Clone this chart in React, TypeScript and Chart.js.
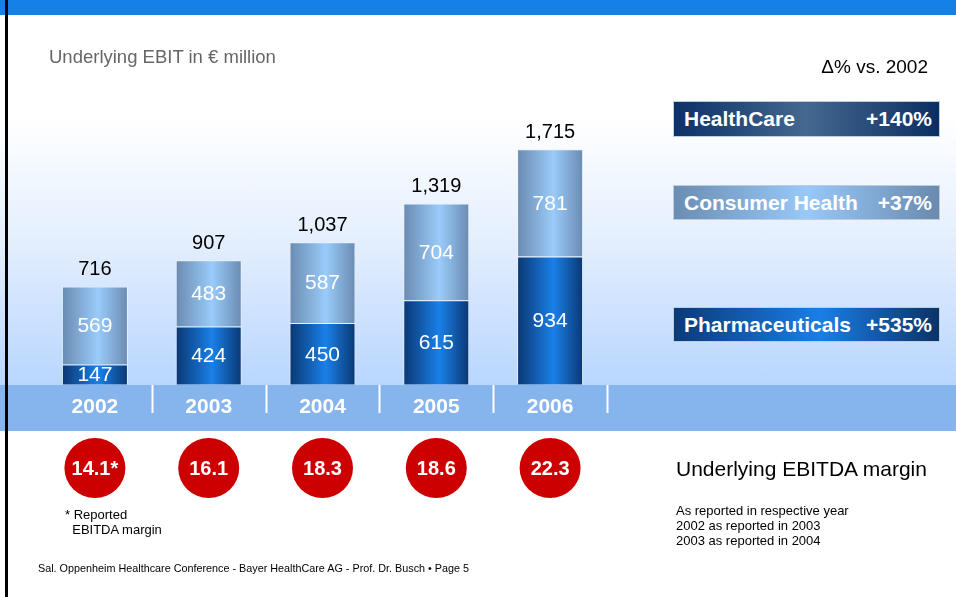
import React, { useEffect, useRef } from "react";
import { Chart, registerables } from "chart.js";

Chart.register(...registerables);

// ---- data ----
const years = ["2002", "2003", "2004", "2005", "2006"];
const pharmaValues = [147, 424, 450, 615, 934];
const consumerValues = [569, 483, 587, 704, 781];
const totalValues = [716, 907, 1037, 1319, 1715];
const ebitdaMargins = ["14.1*", "16.1", "18.3", "18.6", "22.3"];
const segmentNames = ["HealthCare", "Consumer Health", "Pharmaceuticals"];
const segmentChanges = ["+140%", "+37%", "+535%"];
const marginNotes = [
  "As reported in respective year",
  "2002 as reported in 2003",
  "2003 as reported in 2004",
];

const FONT = "'Liberation Sans', Arial, Helvetica, sans-serif";

const PHARMA_EDGE = "#0a3772";
const PHARMA_MID = "#1a80e8";
const CONSUMER_EDGE = "#6a8bb0";
const CONSUMER_MID = "#9acbfa";

const makeBarGradient = (edge: string, mid: string) => (ctx: any) => {
  const chart = ctx.chart;
  const xs = chart.scales && chart.scales.x;
  if (!xs || !chart.chartArea || ctx.dataIndex === undefined) return mid;
  const cx = xs.getPixelForValue(ctx.dataIndex);
  const half = ((xs.width / years.length) * 0.58) / 2;
  const g = chart.ctx.createLinearGradient(cx - half, 0, cx + half, 0);
  g.addColorStop(0, edge);
  g.addColorStop(0.55, mid);
  g.addColorStop(1, edge);
  return g;
};

const labelPlugin = {
  id: "slideLabels",
  afterDatasetsDraw(chart: any) {
    const c = chart.ctx;
    c.save();
    c.textAlign = "center";
    c.textBaseline = "middle";
    const sets = [pharmaValues, consumerValues];
    sets.forEach((vals, di) => {
      const meta = chart.getDatasetMeta(di);
      meta.data.forEach((el: any, i: number) => {
        const y = (el.y + el.base) / 2;
        c.fillStyle = "#ffffff";
        c.font = `21px ${FONT}`;
        c.fillText(String(vals[i]), el.x, y + 1);
      });
    });
    const top = chart.getDatasetMeta(1);
    top.data.forEach((el: any, i: number) => {
      c.fillStyle = "#000000";
      c.font = `20px ${FONT}`;
      c.fillText(totalValues[i].toLocaleString("en-US"), el.x, el.y - 17);
    });
    const xs = chart.scales.x;
    const step = xs.width / years.length;
    // separators in the year band
    c.strokeStyle = "#ffffff";
    c.lineWidth = 2;
    years.forEach((_, i) => {
      const x = Math.round(xs.getPixelForValue(i) + step / 2) + 0.5;
      c.beginPath();
      c.moveTo(x, 385);
      c.lineTo(x, 413);
      c.stroke();
    });
    // EBITDA margin circles under each year
    ebitdaMargins.forEach((m, i) => {
      const x = xs.getPixelForValue(i);
      const y = 468;
      c.fillStyle = "#cc0000";
      c.beginPath();
      c.ellipse(x, y, 30.5, 30, 0, 0, Math.PI * 2);
      c.fill();
      c.fillStyle = "#ffffff";
      c.font = `bold 20px ${FONT}`;
      c.fillText(m, x, y + 1);
    });
    c.restore();
  },
};

function BarChart() {
  const ref = useRef<HTMLCanvasElement | null>(null);
  useEffect(() => {
    if (!ref.current) return;
    const chart = new Chart(ref.current, {
      type: "bar",
      data: {
        labels: years,
        datasets: [
          {
            label: segmentNames[2],
            data: pharmaValues,
            backgroundColor: makeBarGradient(PHARMA_EDGE, PHARMA_MID) as any,
            borderColor: "rgba(235,242,252,0.9)",
            borderWidth: 1,
            stack: "s",
          },
          {
            label: segmentNames[1],
            data: consumerValues,
            backgroundColor: makeBarGradient(CONSUMER_EDGE, CONSUMER_MID) as any,
            borderColor: "rgba(235,242,252,0.9)",
            borderWidth: 1,
            stack: "s",
          },
        ],
      },
      options: {
        animation: false,
        responsive: false,
        maintainAspectRatio: false,
        layout: { padding: { left: 38, right: 349, top: 110, bottom: 167 } },
        datasets: { bar: { categoryPercentage: 1, barPercentage: 0.58 } },
        plugins: { legend: { display: false }, tooltip: { enabled: false } },
        scales: {
          x: {
            stacked: true,
            grid: { display: false, drawTicks: false },
            border: { display: false },
            ticks: {
              color: "#ffffff",
              padding: 10,
              font: { family: FONT, size: 21, weight: "bold" },
            },
          },
          y: { stacked: true, display: false, min: 0, max: 2000 },
        },
      },
      plugins: [labelPlugin],
    });
    return () => chart.destroy();
  }, []);
  return (
    <canvas
      ref={ref}
      width={956}
      height={597}
      style={{ position: "absolute", left: 0, top: 0, width: 956, height: 597 }}
    />
  );
}

const boxStyles = [
  { top: 101, height: 36, bg: "linear-gradient(90deg, #0b3168 0%, #44688f 50%, #0b2e62 100%)" },
  { top: 185, height: 35, bg: "linear-gradient(90deg, #6a8db2 0%, #98c9f9 50%, #6a8aae 100%)" },
  { top: 307, height: 35, bg: "linear-gradient(90deg, #0b3a78 0%, #1a7ee6 55%, #0b3366 100%)" },
];

export default function App() {
  return (
    <div
      style={{
        position: "absolute",
        left: 0,
        top: 0,
        width: 956,
        height: 597,
        overflow: "hidden",
        background: "#ffffff",
        fontFamily: FONT,
      }}
    >
      <div style={{ position: "absolute", left: 0, top: 0, width: 956, height: 15, background: "#1580e8" }} />
      <div
        style={{
          position: "absolute",
          left: 0,
          top: 15,
          width: 956,
          height: 370,
          background: "linear-gradient(180deg, #ffffff 0%, #ffffff 28%, #e3eefd 62%, #b8d6fe 100%)",
        }}
      />
      <div style={{ position: "absolute", left: 0, top: 385, width: 956, height: 46, background: "#86b4ec" }} />
      <div style={{ position: "absolute", left: 5, top: 0, width: 3, height: 597, background: "#000" }} />

      <BarChart />

      <div style={{ position: "absolute", left: 49, top: 46, fontSize: 18.5, color: "#666", whiteSpace: "nowrap" }}>
        Underlying EBIT in € million
      </div>
      <div style={{ position: "absolute", right: 28, top: 56, fontSize: 19, color: "#000", whiteSpace: "nowrap" }}>
        Δ% vs. 2002
      </div>

      {segmentNames.map((name, i) => (
        <div
          key={name}
          style={{
            position: "absolute",
            left: 673,
            top: boxStyles[i].top,
            width: 267,
            height: boxStyles[i].height,
            boxSizing: "border-box",
            border: "1px solid #b9cde3",
            background: boxStyles[i].bg,
            color: "#fff",
            fontWeight: "bold",
            fontSize: 21,
            display: "flex",
            alignItems: "center",
            justifyContent: "space-between",
            padding: "0 7px 0 10px",
            whiteSpace: "nowrap",
          }}
        >
          <span>{name}</span>
          <span>{segmentChanges[i]}</span>
        </div>
      ))}

      <div style={{ position: "absolute", left: 65, top: 507, fontSize: 13, lineHeight: "15px", color: "#000", whiteSpace: "pre" }}>
        {"* Reported\n  EBITDA margin"}
      </div>

      <div style={{ position: "absolute", left: 676, top: 457, fontSize: 21, color: "#000", whiteSpace: "nowrap" }}>
        Underlying EBITDA margin
      </div>
      <div style={{ position: "absolute", left: 676, top: 503, fontSize: 13, lineHeight: "15px", color: "#000" }}>
        {marginNotes.map((n) => (
          <div key={n} style={{ whiteSpace: "nowrap" }}>{n}</div>
        ))}
      </div>

      <div style={{ position: "absolute", left: 38, top: 562, fontSize: 10.8, color: "#000", whiteSpace: "nowrap" }}>
        Sal. Oppenheim Healthcare Conference - Bayer HealthCare AG - Prof. Dr. Busch • Page 5
      </div>
    </div>
  );
}
